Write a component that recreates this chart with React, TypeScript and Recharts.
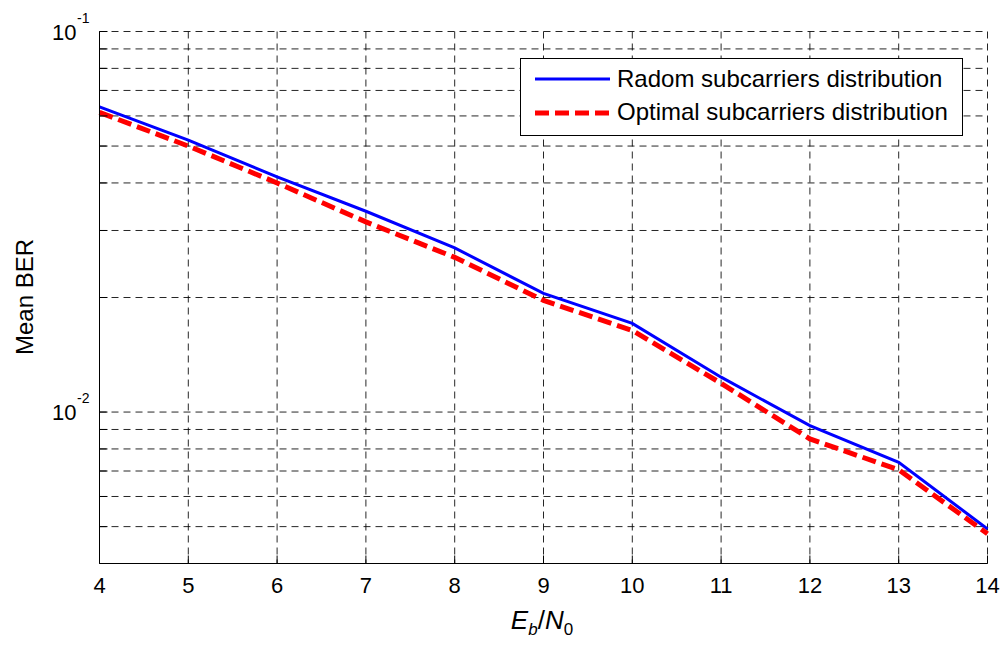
import React from 'react';
import { LineChart, Line, XAxis, YAxis, CartesianGrid, Legend, Label } from 'recharts';

const ebn0 = [4, 5, 6, 7, 8, 9, 10, 11, 12, 13, 14];
const randomBer = [0.0634, 0.0518, 0.0415, 0.0337, 0.027, 0.0205, 0.0171, 0.01235, 0.00921, 0.00738, 0.00493];
const optimalBer = [0.0613, 0.05, 0.04, 0.0316, 0.0255, 0.01965, 0.01638, 0.0119, 0.0085, 0.00705, 0.00479];

const xTicks = [4, 5, 6, 7, 8, 9, 10, 11, 12, 13, 14];
const yTicks = [0.005, 0.006, 0.007, 0.008, 0.009, 0.01, 0.02, 0.03, 0.04, 0.05, 0.06, 0.07, 0.08, 0.09, 0.1];
const yMajor: Record<string, string> = { '0.01': '-2', '0.1': '-1' };

const seriesNames = ['Radom subcarriers distribution', 'Optimal subcarriers distribution'];

const data = ebn0.map((x, i) => ({ x, random: randomBer[i], optimal: optimalBer[i] }));

const FONT = '"Liberation Sans", Arial, sans-serif';

const BottomTick = (props: any) => {
  const { x, y, payload } = props;
  return (
    <g>
      <line x1={x} y1={y} x2={x} y2={y - 8} stroke="#000" />
      <text x={x} y={y + 29} textAnchor="middle" fontSize={22} fontFamily={FONT} fill="#000">
        {payload.value}
      </text>
    </g>
  );
};

const TopTick = (props: any) => {
  const { x, y } = props;
  return <line x1={x} y1={y} x2={x} y2={y + 8} stroke="#000" />;
};

const LeftTick = (props: any) => {
  const { x, y, payload } = props;
  const sup = yMajor[String(payload.value)];
  return (
    <g>
      <line x1={x} y1={y} x2={x + 8} y2={y} stroke="#000" />
      {sup && (
        <g fontFamily={FONT} fill="#000">
          <text x={x - 23} y={y + 8} textAnchor="end" fontSize={22}>10</text>
          <text x={x - 10} y={y - 9} textAnchor="end" fontSize={14}>{sup}</text>
        </g>
      )}
    </g>
  );
};

const RightTick = (props: any) => {
  const { x, y } = props;
  return <line x1={x} y1={y} x2={x - 8} y2={y} stroke="#000" />;
};

const LegendBox = () => (
  <svg width={444} height={79} style={{ display: 'block' }}>
    <rect x={0.5} y={0.5} width={442} height={77} fill="#fff" stroke="#000" />
    <line x1={15} y1={21} x2={90} y2={21} stroke="#0000ff" strokeWidth={3} />
    <line x1={15} y1={55} x2={90} y2={55} stroke="#ff0000" strokeWidth={5} strokeDasharray="14 6" />
    <text x={97} y={29} fontSize={24} fontFamily={FONT} fill="#000">{seriesNames[0]}</text>
    <text x={97} y={62} fontSize={24} fontFamily={FONT} fill="#000">{seriesNames[1]}</text>
  </svg>
);

export default function App() {
  return (
    <div style={{ position: 'absolute', left: 0, top: 0, background: '#fff' }}>
      <LineChart
        width={1003}
        height={645}
        data={data}
        margin={{ top: 31.5, right: 15.5, bottom: 41.5, left: 39.5 }}
      >
        <CartesianGrid stroke="#000" strokeWidth={1} strokeDasharray="7 5" strokeOpacity={0.85} />
        <XAxis
          dataKey="x"
          type="number"
          domain={[4, 14]}
          ticks={xTicks}
          interval={0}
          height={40}
          tickSize={0}
          tickMargin={0}
          tick={<BottomTick />}
          axisLine={{ stroke: '#000' }}
          tickLine={false}
        >
          <Label
            content={() => (
              <text x={542} y={629} textAnchor="middle" fontSize={26} fontFamily={FONT} fill="#000">
                <tspan fontStyle="italic">E</tspan>
                <tspan fontStyle="italic" fontSize={17} dy={6}>b</tspan>
                <tspan dy={-6}>/</tspan>
                <tspan fontStyle="italic">N</tspan>
                <tspan fontSize={17} dy={6}>0</tspan>
              </text>
            )}
          />
        </XAxis>
        <XAxis
          xAxisId="top"
          orientation="top"
          type="number"
          domain={[4, 14]}
          ticks={xTicks}
          interval={0}
          height={0}
          tickSize={0}
          tickMargin={0}
          tick={<TopTick />}
          axisLine={{ stroke: '#000' }}
          tickLine={false}
        />
        <YAxis
          type="number"
          scale="log"
          domain={[0.004, 0.1]}
          allowDataOverflow
          ticks={yTicks}
          interval={0}
          width={60}
          tickSize={0}
          tickMargin={0}
          tick={<LeftTick />}
          axisLine={{ stroke: '#000' }}
          tickLine={false}
        >
          <Label
            content={() => (
              <text
                x={24}
                y={297}
                transform="rotate(-90 24 297)"
                textAnchor="middle"
                dominantBaseline="central"
                fontSize={24}
                fontFamily={FONT}
                fill="#000"
              >
                Mean BER
              </text>
            )}
          />
        </YAxis>
        <YAxis
          yAxisId="right"
          orientation="right"
          type="number"
          scale="log"
          domain={[0.004, 0.1]}
          allowDataOverflow
          ticks={yTicks}
          interval={0}
          width={0}
          tickSize={0}
          tickMargin={0}
          tick={<RightTick />}
          axisLine={{ stroke: '#000' }}
          tickLine={false}
        />
        <Legend
          layout="horizontal"
          verticalAlign="middle"
          align="center"
          content={() => <LegendBox />}
          wrapperStyle={{ position: 'absolute', left: 520, top: 58, width: 444, height: 79 }}
        />
        <Line
          dataKey="random"
          name={seriesNames[0]}
          stroke="#0000ff"
          strokeWidth={3}
          dot={false}
          isAnimationActive={false}
        />
        <Line
          dataKey="optimal"
          name={seriesNames[1]}
          stroke="#ff0000"
          strokeWidth={5}
          strokeDasharray="14 6"
          dot={false}
          isAnimationActive={false}
        />
      </LineChart>
    </div>
  );
}
